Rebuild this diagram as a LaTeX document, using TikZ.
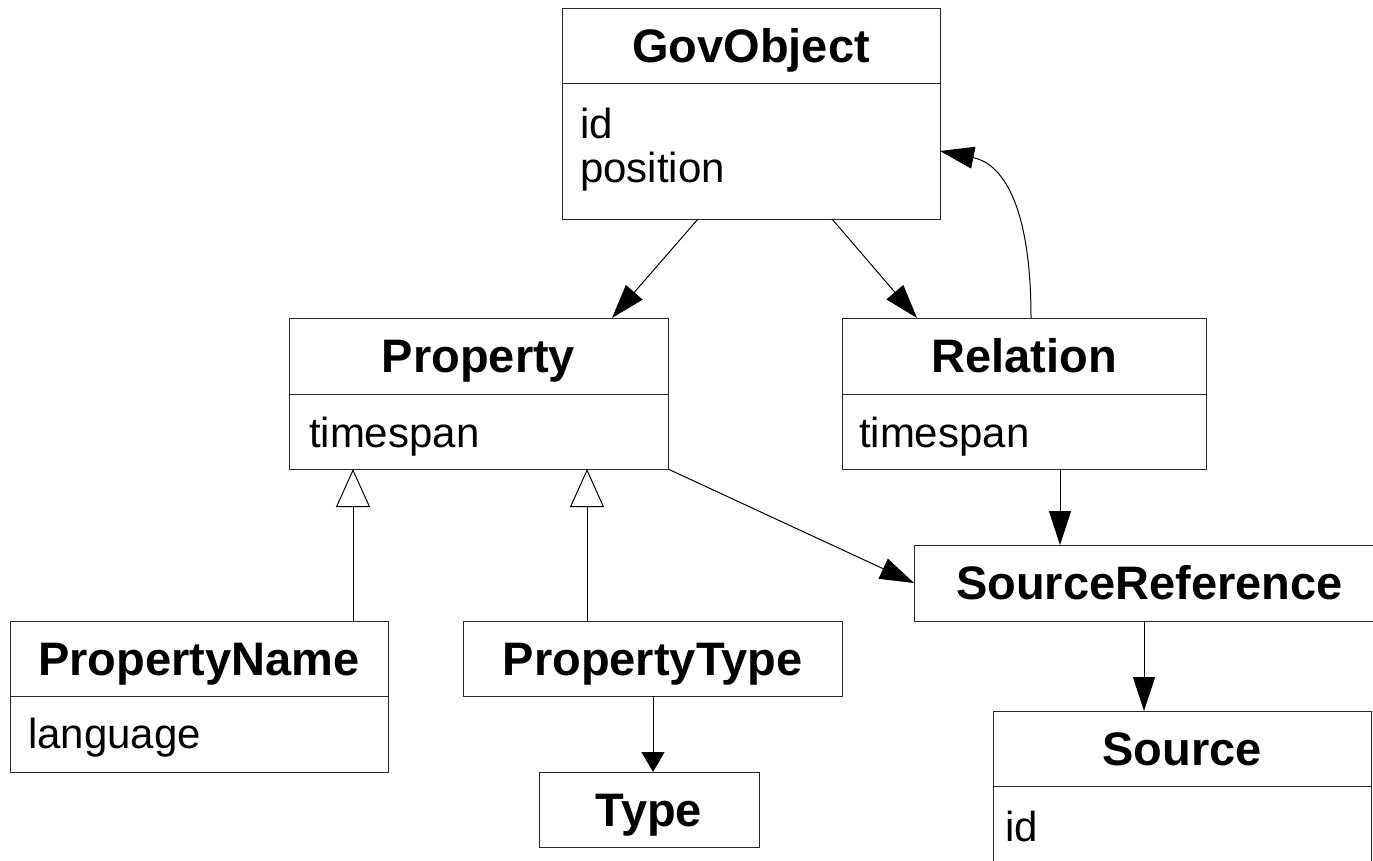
\documentclass[tikz,border=0pt]{standalone}
\usepackage{fontspec}
\setmainfont{Liberation Sans}
\usetikzlibrary{arrows.meta}
\tikzset{
  box/.style={draw=black!85, line width=1pt, rectangle, inner sep=0pt, outer sep=0pt},
  title/.style={font=\bfseries\fontsize{47}{50}\selectfont, text height=33.6pt, text depth=0pt},
  attr/.style={font=\fontsize{42}{44}\selectfont, inner sep=0pt, outer sep=0pt, anchor=base west},
  assoc/.style={-{Triangle[length=34pt,width=22pt]}, line width=1pt, draw=black},
  assocsmall/.style={-{Triangle[length=20pt,width=23pt]}, line width=1pt, draw=black},
  gen/.style={-{Triangle[open,length=38pt,width=34pt]}, line width=1pt, draw=black},
}
\begin{document}
\begin{tikzpicture}[x=1pt,y=-1pt]
\useasboundingbox (0,0) rectangle (1373,860);
\clip (0,0) rectangle (1373,860);
\fill[white] (0,0) rectangle (1373,860);

% GovObject
\node[box, title, minimum width=378pt, minimum height=75pt] (gov) at (751,45.5) {GovObject};
\node[box, minimum width=378pt, minimum height=136pt, anchor=north] (govb) at (gov.south) {};
\node[attr] (govid) at (580,138) {id};
\node[attr] (govpos) at (580,182) {position};

% Property
\node[box, title, minimum width=379pt, minimum height=76pt] (prop) at (478.5,356) {Property};
\node[box, minimum width=379pt, minimum height=75pt, anchor=north] (propb) at (prop.south) {};
\node[attr] (propts) at (309,447) {timespan};

% Relation
\node[box, title, minimum width=364pt, minimum height=76pt] (rel) at (1024,356) {Relation};
\node[box, minimum width=364pt, minimum height=75pt, anchor=north] (relb) at (rel.south) {};
\node[attr] (relts) at (859,447) {timespan};

% SourceReference
\node[box, title, minimum width=471pt, minimum height=76pt] (sref) at (1149.5,583) {SourceReference};

% Source
\node[box, title, minimum width=378pt, minimum height=75pt] (src) at (1182,748.5) {Source};
\node[box, minimum width=378pt, minimum height=120pt, anchor=north] (srcb) at (src.south) {};
\node[attr] (srcid) at (1005,841) {id};

% PropertyName
\node[box, title, minimum width=378pt, minimum height=75pt] (pn) at (199,658.5) {PropertyName};
\node[box, minimum width=378pt, minimum height=76pt, anchor=north] (pnb) at (pn.south) {};
\node[attr] (pnlang) at (28,748) {language};

% PropertyType
\node[box, title, minimum width=379pt, minimum height=75pt] (ptype) at (652.5,658.5) {PropertyType};

% Type
\node[box, title, minimum width=220pt, minimum height=75pt] (type) at (649,809.5) {Type};

% Connectors
\draw[assoc] ([xshift=-53pt]govb.south) -- ([xshift=133.5pt]prop.north);
\draw[assoc] ([xshift=81pt]govb.south) -- ([xshift=-107pt]rel.north);
\draw[assoc] ([xshift=7pt]rel.north) .. controls (1031,200) and (1000,163) .. (govb.east);
\draw[assoc] (propb.south east) -- (sref.west);
\draw[assoc] ([xshift=36pt]relb.south) -- ([xshift=-89.5pt]sref.north);
\draw[assoc] ([xshift=-5.5pt]sref.south) -- ([xshift=-38pt]src.north);
\draw[assocsmall] ([xshift=0.5pt]ptype.south) -- ([xshift=4pt]type.north);
\draw[gen] ([xshift=154pt]pn.north) -- ([xshift=-125.5pt]propb.south);
\draw[gen] ([xshift=-65.5pt]ptype.north) -- ([xshift=108.5pt]propb.south);
\end{tikzpicture}
\end{document}
